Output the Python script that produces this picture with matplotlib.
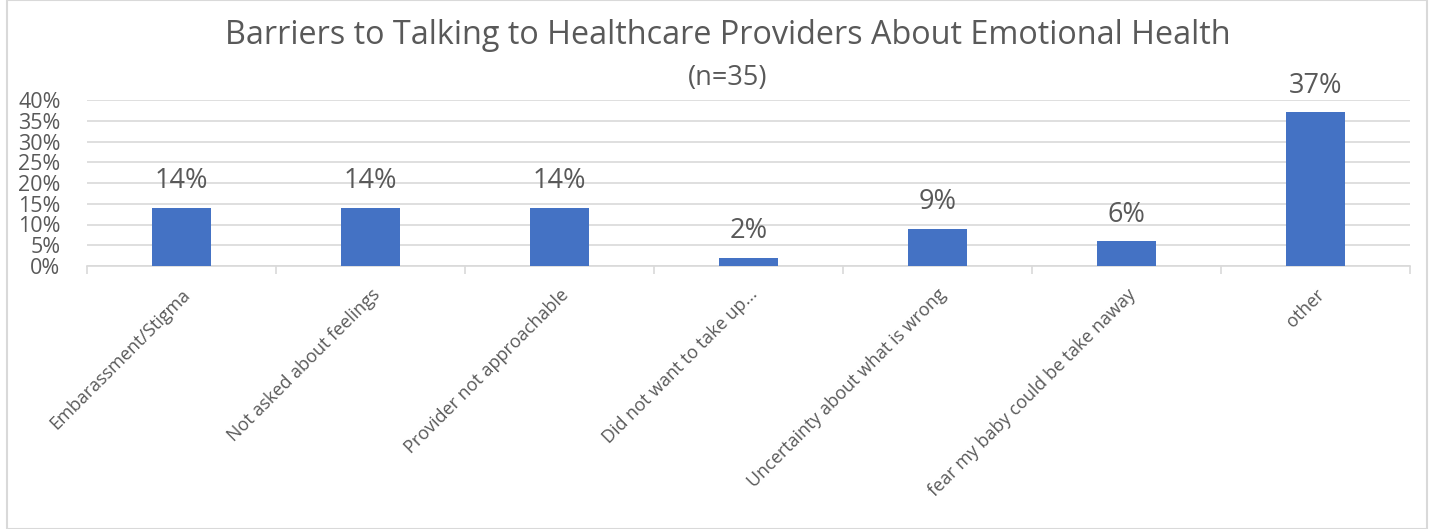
import matplotlib.pyplot as plt
from matplotlib.patches import Rectangle
from matplotlib.ticker import PercentFormatter

plt.rcParams['font.family'] = ['Open Sans', 'DejaVu Sans']

# Survey responses, share of respondents
categories = [
    "Embarassment/Stigma",
    "Not asked about feelings",
    "Provider not approachable",
    "Did not want to take up...",
    "Uncertainty about what is wrong",
    "fear my baby could be take naway",
    "other",
]
shares = [14, 14, 14, 2, 9, 6, 37]
y_ticks = [0, 5, 10, 15, 20, 25, 30, 35, 40]

text_color = "#595959"
bar_color = "#4472C4"
grid_color = "#D9D9D9"

fig = plt.figure(figsize=(14.34, 5.29), dpi=100)
ax = fig.add_axes([87 / 1434, 1 - 266 / 529, (1410 - 87) / 1434, (266 - 100) / 529])

x = range(len(categories))
bars = ax.bar(x, shares, width=0.31, color=bar_color, zorder=3)

for rect, v in zip(bars, shares):
    ax.annotate(f"{v}%", (rect.get_x() + rect.get_width() / 2, v),
                xytext=(0, 9), textcoords="offset points",
                ha="center", va="bottom", fontsize=19.5, color=text_color)

ax.set_xlim(-0.5, len(categories) - 0.5)
ax.set_ylim(0, 40)
ax.set_yticks(y_ticks)
ax.yaxis.set_major_formatter(PercentFormatter(decimals=0))
ax.grid(axis="y", color=grid_color, linewidth=1.2, zorder=0)

# category separators below the axis
ax.set_xticks([i - 0.5 for i in range(len(categories) + 1)], minor=False)
ax.set_xticklabels([])
ax.tick_params(axis="x", which="major", length=6, color=grid_color, width=1.2)
ax.set_xticks(list(x), minor=True)
ax.set_xticklabels(categories, minor=True, rotation=45, ha="right",
                   rotation_mode="anchor", fontsize=13, color=text_color)
ax.tick_params(axis="x", which="minor", length=0, pad=14)
ax.tick_params(axis="y", length=0, labelsize=15.5, colors=text_color, pad=19)

for side in ("top", "right", "left"):
    ax.spines[side].set_visible(False)
ax.spines["bottom"].set_color(grid_color)
ax.spines["bottom"].set_linewidth(1.2)

fig.text(728 / 1434, 1 - 36 / 529, "Barriers to Talking to Healthcare Providers About Emotional Health",
         ha="center", va="center", fontsize=23.3, color=text_color)
fig.text(728 / 1434, 1 - 78 / 529, "(n=35)", ha="center", va="center",
         fontsize=19.5, color=text_color)

fig.patches.append(Rectangle((7 / 1434, 0), 1420 / 1434, 1, transform=fig.transFigure,
                             fill=False, edgecolor="#D9D9D9", linewidth=1.5))

fig.savefig("out.png", dpi=100)
